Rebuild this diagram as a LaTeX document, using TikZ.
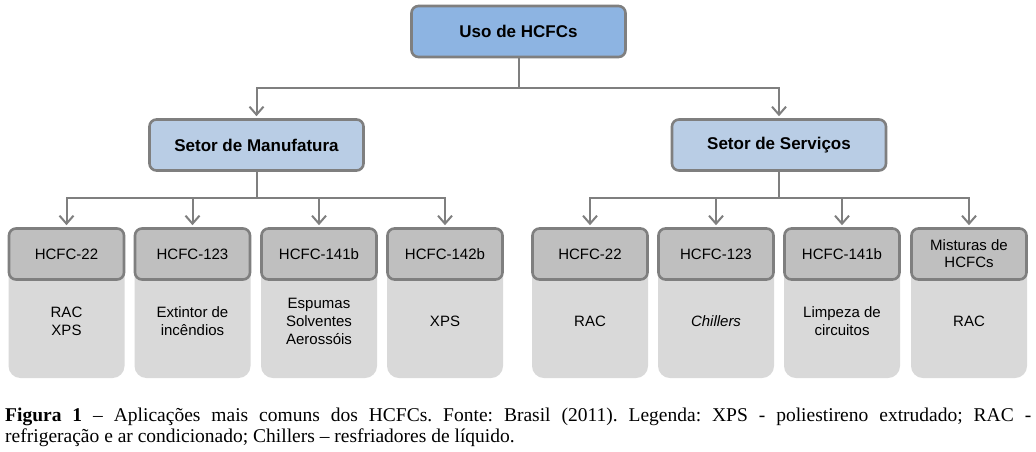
\documentclass[tikz,border=0pt]{standalone}
\usepackage{fontspec}
\setmainfont{Liberation Serif}
\newfontfamily\arialf{Liberation Sans}
\usetikzlibrary{arrows.meta}
\definecolor{bordergray}{HTML}{7F7F7F}
\definecolor{topblue}{HTML}{8DB4E2}
\definecolor{secblue}{HTML}{B9CDE5}
\definecolor{midgray}{HTML}{BFBFBF}
\definecolor{lightgray}{HTML}{D9D9D9}
\begin{document}
\begin{tikzpicture}[x=1pt,y=-1pt,
  topbox/.style={draw=bordergray,line width=2.6pt,fill=topblue,rounded corners=7pt,
    minimum width=214pt,minimum height=51pt,inner sep=0pt,
    font=\arialf\bfseries\fontsize{17}{20}\selectfont},
  secbox/.style={topbox,fill=secblue},
  hbox/.style={draw=bordergray,line width=2.6pt,fill=midgray,rounded corners=7pt,
    minimum width=115pt,minimum height=51pt,inner sep=0pt,align=center,
    font=\arialf\fontsize{15}{17}\selectfont},
  lbox/.style={fill=lightgray,rounded corners=12pt,
    minimum width=116pt,minimum height=114pt,inner sep=0pt,align=center,
    font=\arialf\fontsize{15}{18}\selectfont},
  conn/.style={draw=bordergray,line width=2pt},
  arr/.style={conn,-{Straight Barb[length=8pt,width=14pt,line width=2pt]}}
]
\useasboundingbox (0,0) rectangle (1036,451);
\fill[white] (0,0) rectangle (1036,451);

% top level
\node[topbox] (top) at (518.5,31.5) {Uso de HCFCs};
\node[secbox] (man) at (256.5,145) {Setor de Manufatura};
\node[secbox] (ser) at (779,145) {Setor de Serviços};

% light boxes
\node[lbox] (b1) at (66.5,321) {RAC\\XPS};
\node[lbox] (b2) at (192.5,321) {Extintor de\\incêndios};
\node[lbox] (b3) at (319,321) {Espumas\\Solventes\\Aerossóis};
\node[lbox] (b4) at (445,321) {XPS};
\node[lbox] (b5) at (590,321) {RAC};
\node[lbox] (b6) at (716,321) {\itshape Chillers};
\node[lbox] (b7) at (842,321) {Limpeza de\\circuitos};
\node[lbox] (b8) at (969,321) {RAC};

% gray header boxes
\node[hbox] (h1) at (66.5,254) {HCFC-22};
\node[hbox] (h2) at (192.5,254) {HCFC-123};
\node[hbox] (h3) at (319,254) {HCFC-141b};
\node[hbox] (h4) at (445,254) {HCFC-142b};
\node[hbox] (h5) at (590,254) {HCFC-22};
\node[hbox] (h6) at (716,254) {HCFC-123};
\node[hbox] (h7) at (842,254) {HCFC-141b};
\node[hbox] (h8) at (969,254) {Misturas de\\HCFCs};

% connectors
\coordinate (j0) at (518.5,88);
\coordinate (jm) at (256.5,198);
\coordinate (js) at (779,198);
\draw[conn] (top.south) -- (j0);
\draw[arr,shorten >=2pt] (j0) -| (man.north);
\draw[arr,shorten >=2pt] (j0) -| (ser.north);
\draw[conn] (man.south) -- (jm);
\draw[conn] (ser.south) -- (js);
\foreach \h in {h1,h2,h3,h4}{\draw[arr,shorten >=2pt] (jm) -| (\h.north);}
\foreach \h in {h5,h6,h7,h8}{\draw[arr,shorten >=2pt] (js) -| (\h.north);}

% caption
\node[anchor=base west,inner sep=0pt,text width=1026pt,align=justify,
  font=\fontsize{19.5}{21}\selectfont\frenchspacing] (cap) at (5,421)
  {\textbf{Figura 1} – Aplicações mais comuns dos HCFCs. Fonte: Brasil (2011). Legenda: XPS - poliestireno extrudado; RAC -\linebreak
   refrigeração e ar condicionado; Chillers – resfriadores de líquido.};
\end{tikzpicture}
\end{document}
